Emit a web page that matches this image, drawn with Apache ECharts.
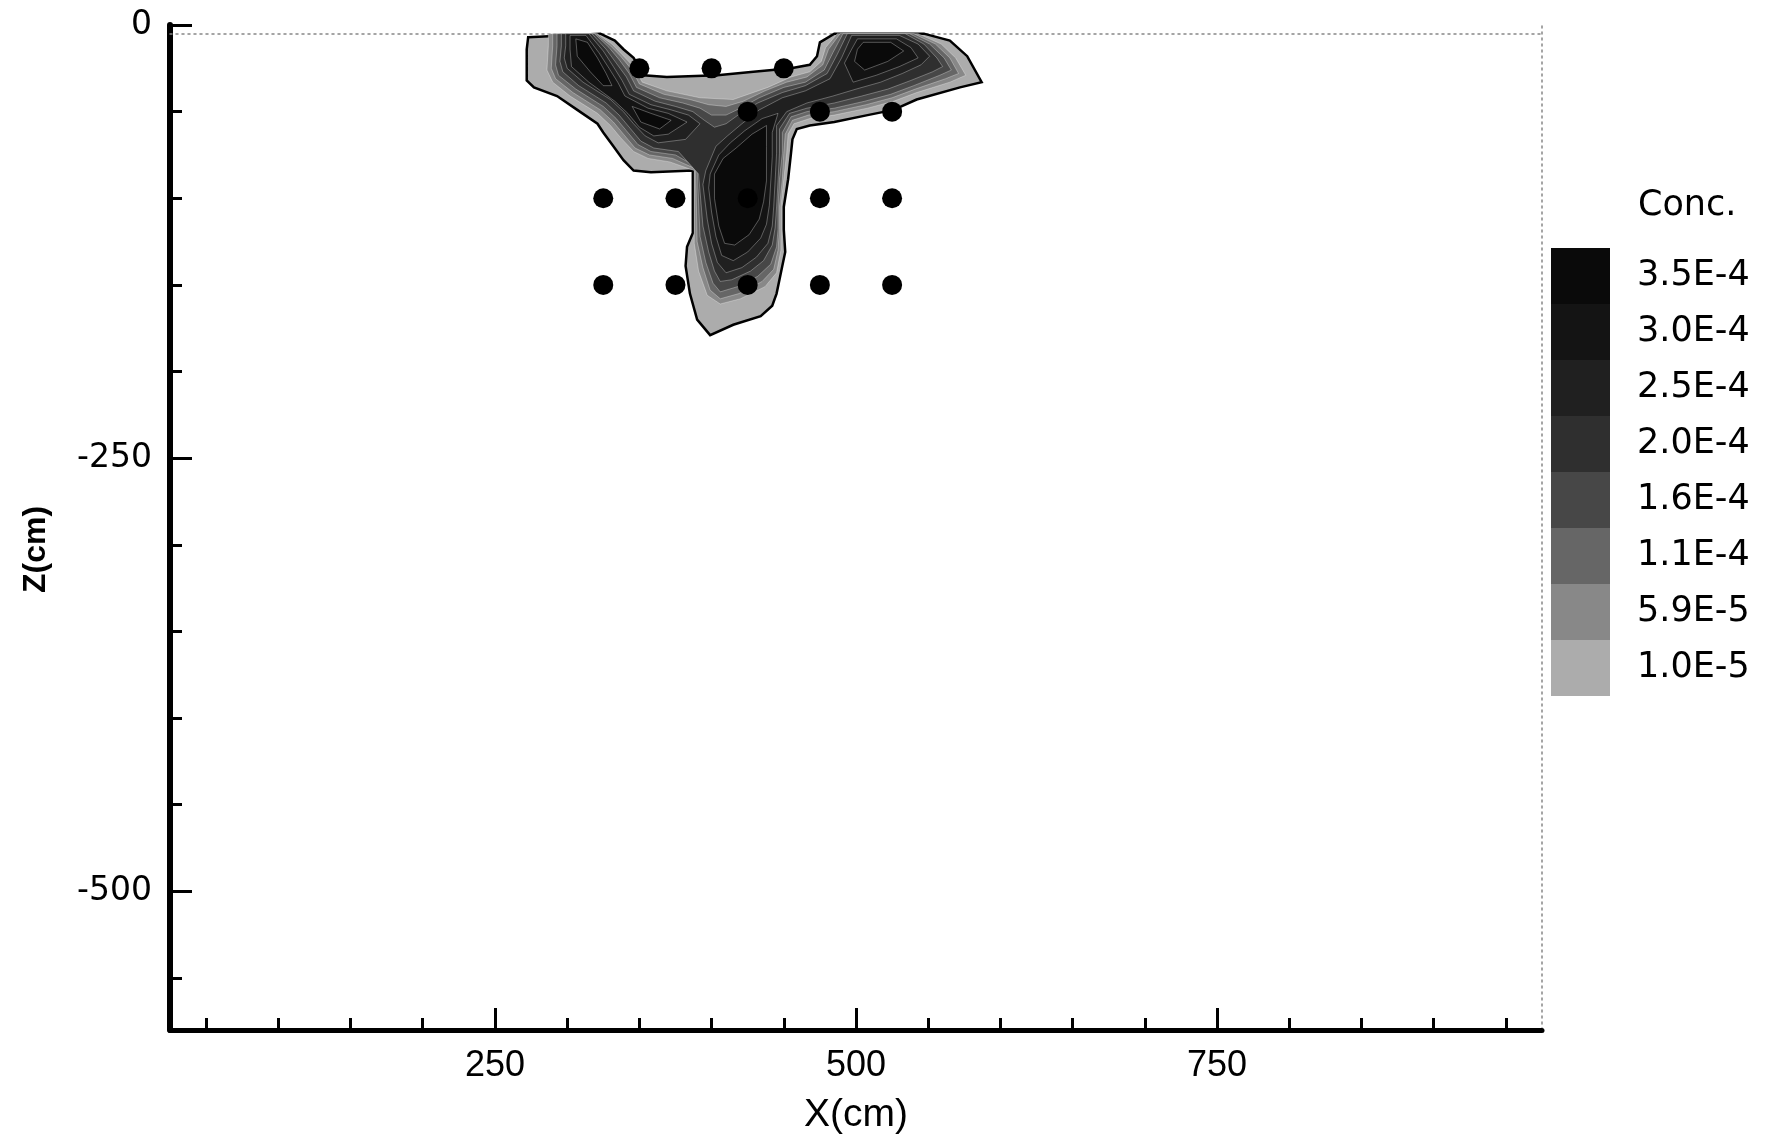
<!DOCTYPE html>
<html>
<head>
<meta charset="utf-8">
<script src="https://cdn.jsdelivr.net/npm/echarts@6/dist/echarts.min.js"></script>
<style>
  html, body { margin: 0; padding: 0; background: #fff; }
  #chart { width: 1769px; height: 1140px; }
</style>
</head>
<body>
<div id="chart"></div>
<script>
// contour levels (lower bound of each band) and their legend labels
const concLevels = [1.0e-5, 5.9e-5, 1.1e-4, 1.6e-4, 2.0e-4, 2.5e-4, 3.0e-4, 3.5e-4]
const concLabels = ['1.0E-5', '5.9E-5', '1.1E-4', '1.6E-4', '2.0E-4', '2.5E-4', '3.0E-4', '3.5E-4']
const bandColors = ['#acacac', '#888888', '#666666', '#474747', '#2f2f2f', '#202020', '#141414', '#0a0a0a']

// sampling ports (x, z) in cm
const portX = [350, 400, 450, 425, 475, 525, 325, 375, 425, 475, 525, 325, 375, 425, 475, 525]
const portZ = [-25, -25, -25, -50, -50, -50, -100, -100, -100, -100, -100, -150, -150, -150, -150, -150]

// axis ticks
const xMinorTicks = [50, 100, 150, 200, 250, 300, 350, 400, 450, 500, 550, 600, 650, 700, 750, 800, 850, 900, 950]
const xMajorTicks = [250, 500, 750]
const zMinorTicks = [-550, -500, -450, -400, -350, -300, -250, -200, -150, -100, -50, 0]
const zMajorTicks = [-500, -250, 0]

// contour outlines, [x, z] in cm
const c10e5 = [[273,-7],[323,-5],[333,-9],[339,-14],[346,-19],[353,-29],[369,-30],[404,-29],[429,-27],[455,-25],[468,-23],[473,-18],[475,-10],[485,-5],[547,-5],[565,-9],[577,-18],[587,-33],[572,-36],[542,-43],[526,-49],[508,-52],[485,-56],[468,-58],[459,-60],[456,-66],[455,-74],[453,-89],[450,-105],[450,-118],[451,-131],[449,-139],[445,-155],[442,-162],[434,-168],[415,-173],[399,-179],[390,-170],[385,-155],[382,-139],[383,-128],[387,-120],[387,-84],[358,-85],[346,-84],[339,-78],[332,-70],[325,-62],[321,-57],[307,-49],[293,-41],[277,-36],[272,-32],[272,-14]]
const c59e6 = [[287,-5],[321,-5],[331,-11],[338,-17],[346,-24],[352,-33],[369,-38],[392,-42],[415,-43],[439,-36],[455,-30],[468,-27],[476,-21],[479,-13],[487,-5],[543,-5],[559,-11],[569,-19],[576,-29],[565,-33],[542,-39],[526,-44],[508,-48],[485,-52],[468,-54],[457,-57],[453,-63],[452,-74],[450,-89],[448,-105],[448,-118],[448,-130],[445,-143],[437,-151],[420,-158],[406,-161],[397,-156],[391,-142],[388,-126],[388,-84],[371,-79],[356,-77],[346,-73],[337,-65],[330,-58],[321,-51],[302,-41],[290,-33],[286,-26],[287,-12]]
const c11e5 = [[290,-5],[320,-5],[330,-12],[337,-18],[345,-26],[350,-34],[367,-40],[385,-43],[398,-46],[410,-47],[422,-44],[437,-38],[452,-33],[466,-30],[477,-23],[481,-14],[489,-5],[540,-5],[555,-11],[565,-19],[571,-28],[562,-31],[541,-37],[525,-42],[507,-46],[485,-50],[467,-52],[456,-55],[451,-63],[450,-74],[449,-89],[447,-105],[447,-118],[446,-130],[443,-141],[435,-148],[419,-155],[406,-158],[399,-153],[394,-140],[390,-125],[389,-83],[373,-77],[357,-75],[347,-71],[339,-63],[332,-56],[323,-49],[304,-39],[292,-31],[289,-25],[290,-12]]
const c16e5 = [[293,-5],[319,-5],[329,-13],[336,-20],[343,-28],[348,-36],[364,-42],[380,-45],[392,-48],[400,-52],[410,-52],[420,-48],[433,-42],[450,-36],[465,-33],[478,-26],[484,-16],[491,-5],[537,-5],[551,-11],[561,-19],[566,-26],[558,-29],[540,-35],[524,-40],[506,-44],[485,-48],[466,-50],[455,-53],[449,-62],[449,-74],[447,-89],[446,-105],[446,-118],[445,-128],[441,-138],[432,-145],[418,-151],[406,-154],[401,-149],[396,-137],[392,-122],[390,-82],[375,-75],[358,-73],[349,-69],[341,-61],[334,-54],[325,-47],[306,-37],[294,-29],[292,-23],[293,-12]]
const c20e5 = [[296,-5],[317,-5],[327,-14],[334,-22],[341,-30],[346,-38],[361,-44],[375,-47],[387,-50],[395,-55],[402,-59],[410,-57],[420,-51],[432,-45],[449,-39],[465,-35],[480,-28],[487,-17],[494,-5],[534,-5],[547,-11],[556,-19],[560,-24],[553,-27],[538,-32],[522,-37],[504,-41],[485,-45],[466,-48],[454,-51],[447,-60],[447,-74],[446,-90],[445,-105],[444,-117],[442,-127],[436,-136],[427,-142],[414,-147],[406,-148],[402,-142],[398,-131],[394,-116],[391,-86],[377,-73],[360,-71],[351,-67],[343,-59],[336,-52],[327,-45],[308,-35],[297,-27],[295,-21],[296,-12]]
const c25e5Lobe = [[299,-5],[315,-5],[325,-15],[332,-24],[338,-32],[343,-40],[358,-46],[372,-49],[384,-52],[392,-57],[382,-66],[363,-68],[354,-64],[346,-57],[339,-50],[330,-43],[311,-33],[300,-25],[298,-19],[299,-12]]
const c25e5Stem = [[396,-84],[403,-70],[411,-64],[421,-57],[433,-49],[449,-42],[465,-38],[482,-31],[490,-19],[497,-6],[530,-6],[543,-11],[551,-18],[545,-23],[532,-28],[517,-33],[500,-37],[484,-41],[466,-45],[452,-50],[445,-58],[445,-74],[444,-90],[443,-105],[442,-116],[439,-126],[431,-134],[421,-140],[410,-143],[404,-137],[400,-126],[397,-112],[394,-92]]
const c30e5Lobe = [[302,-6],[313,-6],[322,-16],[329,-25],[335,-33],[340,-41],[356,-48],[370,-51],[383,-56],[370,-63],[360,-64],[350,-59],[342,-51],[333,-44],[315,-33],[303,-24],[302,-14]]
const c30e5Stem = [[399,-86],[405,-75],[413,-68],[423,-61],[435,-54],[446,-51],[442,-62],[442,-76],[441,-90],[440,-104],[438,-115],[434,-123],[425,-131],[415,-136],[407,-133],[403,-122],[400,-108],[398,-94]]
const c30e5Right = [[501,-8],[528,-8],[538,-13],[543,-19],[530,-24],[514,-29],[498,-33],[492,-22],[497,-14]]
const c35e5Lobe = [[306,-8],[314,-10],[321,-19],[327,-28],[331,-35],[325,-35],[316,-27],[307,-18]]
const c35e5Mid = [[345,-47],[358,-51],[372,-55],[364,-60],[351,-56]]
const c35e5Stem = [[402,-86],[408,-77],[417,-71],[428,-63],[438,-58],[438,-70],[438,-90],[436,-102],[433,-112],[426,-121],[416,-127],[409,-126],[405,-116],[402,-100]]
const c35e5Right = [[505,-10],[524,-10],[533,-15],[522,-21],[506,-26],[499,-21],[501,-14]]

const contourRings = [
  [c10e5],
  [c59e6],
  [c11e5],
  [c16e5],
  [c20e5],
  [c25e5Lobe, c25e5Stem],
  [c30e5Lobe, c30e5Stem, c30e5Right],
  [c35e5Lobe, c35e5Mid, c35e5Stem, c35e5Right],
]

const polyData = []
contourRings.forEach((rings, li) => {
  rings.forEach((ring) => {
    polyData.push({ value: [concLevels[li], li], ring })
  })
})

const chart = echarts.init(document.getElementById('chart'))

const tickLine = { color: '#000', width: 3 }
const labelFont = 'DejaVu Sans'
const sansFont = '"Liberation Sans", Arial, sans-serif'

const option = {
  animation: false,
  backgroundColor: '#fff',
  title: {
    text: 'Conc.',
    left: 1638,
    top: 188,
    padding: 0,
    textStyle: { fontSize: 35, fontWeight: 'normal', fontFamily: labelFont, color: '#000' },
  },
  grid: { left: 170, top: 25, right: 227, bottom: 108, containLabel: false },
  xAxis: [
    {
      type: 'value', min: 25, max: 975, position: 'bottom',
      axisLine: { onZero: false, lineStyle: { color: '#000', width: 5 } },
      axisTick: { inside: true, length: 12, lineStyle: tickLine, customValues: xMinorTicks },
      axisLabel: { show: false },
      splitLine: { show: false },
    },
    {
      type: 'value', min: 25, max: 975, position: 'bottom',
      axisLine: { show: false, onZero: false },
      axisTick: { inside: true, length: 22, lineStyle: tickLine, customValues: xMajorTicks },
      axisLabel: { customValues: xMajorTicks, margin: 18, fontSize: 36, color: '#000', fontFamily: sansFont },
      splitLine: { show: false },
      name: 'X(cm)', nameLocation: 'middle', nameGap: 66,
      nameTextStyle: { fontSize: 39, color: '#000', fontFamily: sansFont },
    },
    {
      type: 'value', min: 25, max: 975, position: 'top', offset: -9,
      axisLine: { onZero: false, lineStyle: { color: '#888', width: 1.5, type: [2, 4] } },
      axisTick: { show: false }, axisLabel: { show: false }, splitLine: { show: false },
    },
  ],
  yAxis: [
    {
      type: 'value', min: -580, max: 0, position: 'left',
      axisLine: { onZero: false, lineStyle: { color: '#000', width: 6 } },
      axisTick: { inside: true, length: 12, lineStyle: tickLine, customValues: zMinorTicks },
      axisLabel: { show: false },
      splitLine: { show: false },
    },
    {
      type: 'value', min: -580, max: 0, position: 'left',
      axisLine: { show: false, onZero: false },
      axisTick: { inside: true, length: 22, lineStyle: tickLine, customValues: zMajorTicks },
      axisLabel: { customValues: zMajorTicks, margin: 18, fontSize: 33, color: '#000', fontFamily: labelFont },
      splitLine: { show: false },
      name: 'Z(cm)', nameLocation: 'middle', nameRotate: 90, nameGap: 118,
      nameTextStyle: {
        fontSize: 32, fontWeight: 'bold', color: '#000', fontFamily: sansFont,
        padding: [0, 44, 0, 0],
      },
    },
    {
      type: 'value', min: -580, max: 0, position: 'right',
      axisLine: { onZero: false, lineStyle: { color: '#888', width: 1.5, type: [2, 4] } },
      axisTick: { show: false }, axisLabel: { show: false }, splitLine: { show: false },
    },
  ],
  visualMap: {
    type: 'piecewise',
    seriesIndex: 0,
    dimension: 0,
    orient: 'vertical',
    align: 'left',
    left: 1551,
    top: 248,
    padding: 0,
    itemWidth: 59,
    itemHeight: 56,
    itemGap: 0,
    itemSymbol: 'rect',
    textGap: 27,
    selectedMode: false,
    hoverLink: false,
    pieces: concLevels.map((v, i) =>
      i < concLevels.length - 1
        ? { gte: v, lt: concLevels[i + 1], label: concLabels[i], color: bandColors[i] }
        : { gte: v, label: concLabels[i], color: bandColors[i] }
    ),
    textStyle: { color: '#000', fontSize: 35, fontFamily: labelFont },
  },
  series: [
    {
      type: 'custom',
      coordinateSystem: 'cartesian2d',
      data: polyData,
      renderItem: function (params, api) {
        const item = polyData[params.dataIndex]
        const pts = item.ring.map((p) => api.coord(p))
        const outer = item.value[1] === 0
        return {
          type: 'polygon',
          shape: { points: pts },
          style: {
            fill: api.visual('color'),
            stroke: outer ? '#000' : 'rgba(255,255,255,0.3)',
            lineWidth: outer ? 2.5 : 1,
          },
        }
      },
      z: 2,
    },
    {
      type: 'scatter',
      data: portX.map((x, i) => [x, portZ[i]]),
      symbolSize: 20,
      itemStyle: { color: '#000', opacity: 1 },
      z: 5,
    },
  ],
}

chart.setOption(option)
</script>
</body>
</html>
